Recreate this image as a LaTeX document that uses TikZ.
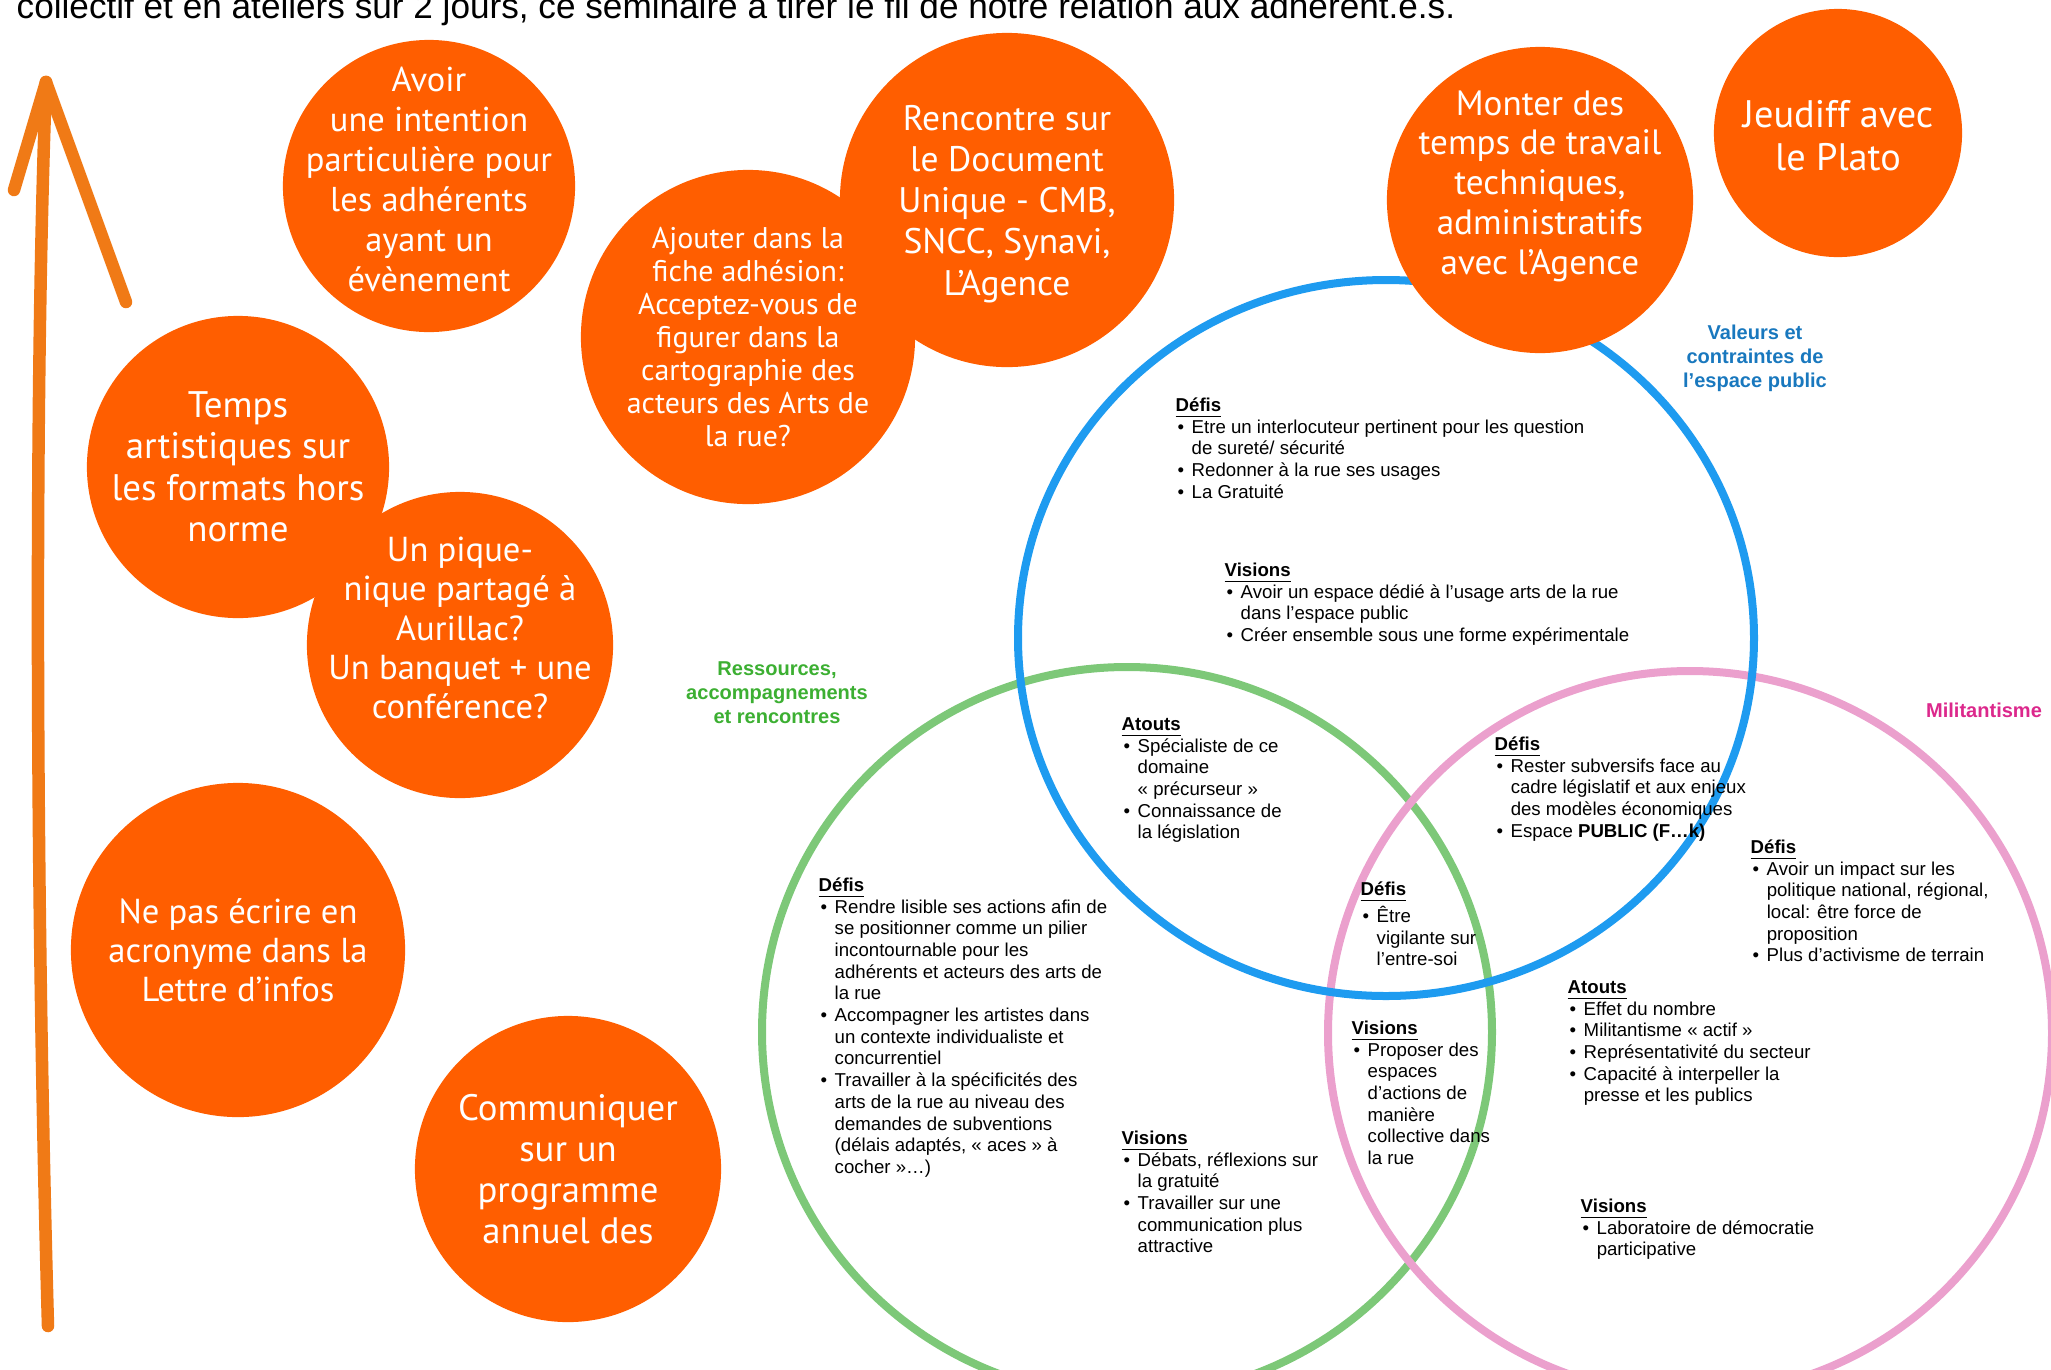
\documentclass[tikz,border=0pt]{standalone}
\usepackage{fontspec}
\setmainfont{Liberation Sans}
\newfontfamily\bubfont{PT Sans}
\usepackage{tikz}

\definecolor{bubor}{RGB}{255,94,0}
\definecolor{arror}{RGB}{240,122,22}
\definecolor{vblue}{RGB}{30,155,240}
\definecolor{vgreen}{RGB}{125,200,120}
\definecolor{vpink}{RGB}{235,160,205}
\definecolor{lblue}{RGB}{25,120,190}
\definecolor{lgreen}{RGB}{60,175,50}
\definecolor{lpink}{RGB}{220,40,140}

\newcommand{\hd}[1]{\rule{0pt}{1em}\textbf{\underline{#1}}}
\newcommand{\bl}{\hspace*{0.1em}\makebox[0.76em][l]{•}}
\newcommand{\ct}{\hspace*{0.86em}}
\newcommand{\bsz}[2]{\bubfont\fontsize{#1}{#2}\selectfont}

\begin{document}
\begin{tikzpicture}[x=0.01cm,y=-0.01cm,
  bubble/.style={circle,fill=bubor,draw=none,inner sep=0pt},
  bubtxt/.style={text=white,align=center,inner sep=0pt},
  venntxt/.style={anchor=north west,align=left,inner sep=0pt,font=\fontsize{5.3}{6.17}\selectfont},
  vennlbl/.style={align=center,inner sep=0pt,font=\bfseries\fontsize{5.7}{6.85}\selectfont},
  ring/.style={line width=0.8mm},
  arrowline/.style={draw=arror,line width=1.25mm,line cap=round,line join=round}]
  \useasboundingbox (0,0) rectangle (2051,1369);

  \draw[ring,vgreen] (1127,1032) circle [radius=365];
  \draw[ring,vpink] (1690,1033) circle [radius=362];
  \draw[ring,vblue] (1386,638) ellipse [x radius=368,y radius=358];

  \node[vennlbl,text=lblue] (lvaleurs) at (1755,358) {Valeurs et\\contraintes de\\l’espace public};
  \node[vennlbl,text=lgreen] (lressources) at (777,693) {Ressources,\\accompagnements\\et rencontres};
  \node[vennlbl,text=lpink] (lmilit) at (1984,710) {Militantisme};

  \node[venntxt] (bdefis) at (1175,392) {\hd{Défis}\\
    \bl Etre un interlocuteur pertinent pour les question\\
    \ct de sureté/ sécurité\\
    \bl Redonner à la rue ses usages\\
    \bl La Gratuité};
  \node[venntxt] (bvisions) at (1224,557) {\hd{Visions}\\
    \bl Avoir un espace dédié à l’usage arts de la rue\\
    \ct dans l’espace public\\
    \bl Créer ensemble sous une forme expérimentale};
  \node[venntxt] (bgatouts) at (1121,711) {\hd{Atouts}\\
    \bl Spécialiste de ce\\
    \ct domaine\\
    \ct « précurseur »\\
    \bl Connaissance de\\
    \ct la législation};
  \node[venntxt] (bpdefis) at (1494,731) {\hd{Défis}\\
    \bl Rester subversifs face au\\
    \ct cadre législatif et aux enjeux\\
    \ct des modèles économiques\\
    \bl Espace \textbf{PUBLIC (F…k)}};
  \node[venntxt] (pdefis) at (1750,834) {\hd{Défis}\\
    \bl Avoir un impact sur les\\
    \ct politique national, régional,\\
    \ct local: être force de\\
    \ct proposition\\
    \bl Plus d’activisme de terrain};
  \node[venntxt] (cdefis) at (1360,876) {\hd{Défis}\\
    \bl Être\\
    \ct vigilante sur\\
    \ct l’entre-soi};
  \node[venntxt] (gdefis) at (818,872) {\hd{Défis}\\
    \bl Rendre lisible ses actions afin de\\
    \ct se positionner comme un pilier\\
    \ct incontournable pour les\\
    \ct adhérents et acteurs des arts de\\
    \ct la rue\\
    \bl Accompagner les artistes dans\\
    \ct un contexte individualiste et\\
    \ct concurrentiel\\
    \bl Travailler à la spécificités des\\
    \ct arts de la rue au niveau des\\
    \ct demandes de subventions\\
    \ct (délais adaptés, « aces » à\\
    \ct cocher »…)};
  \node[venntxt] (gpvisions) at (1351,1015) {\hd{Visions}\\
    \bl Proposer des\\
    \ct espaces\\
    \ct d’actions de\\
    \ct manière\\
    \ct collective dans\\
    \ct la rue};
  \node[venntxt] (patouts) at (1567,974) {\hd{Atouts}\\
    \bl Effet du nombre\\
    \bl Militantisme « actif »\\
    \bl Représentativité du secteur\\
    \bl Capacité à interpeller la\\
    \ct presse et les publics};
  \node[venntxt] (gvisions) at (1121,1125) {\hd{Visions}\\
    \bl Débats, réflexions sur\\
    \ct la gratuité\\
    \bl Travailler sur une\\
    \ct communication plus\\
    \ct attractive};
  \node[venntxt] (pvisions) at (1580,1193) {\hd{Visions}\\
    \bl Laboratoire de démocratie\\
    \ct participative};

  \node[bubble,minimum size=2.92cm] (avoir) at (429,186) {};
  \node[bubble,minimum size=3.34cm] (ajouter) at (748,337) {};
  \node[bubble,minimum size=3.34cm] (rencontre) at (1007,200) {};
  \node[bubble,minimum size=3.06cm] (monter) at (1540,200) {};
  \node[bubble,minimum size=2.48cm] (jeudiff) at (1838,133) {};
  \node[bubble,minimum size=3.02cm] (temps) at (238,467) {};
  \node[bubble,minimum size=3.06cm] (pique) at (460,645) {};
  \node[bubble,minimum size=3.34cm] (ecrire) at (238,950) {};
  \node[bubble,minimum size=3.06cm] (commun) at (568,1169) {};

  \node[bubtxt,font=\bsz{9.8}{11.4},yshift=0.65mm] (tavoir) at (avoir) {Avoir\\une intention\\particulière pour\\les adhérents\\ayant un\\évènement};
  \node[bubtxt,font=\bsz{8.5}{9.4}] (tajouter) at (ajouter) {Ajouter dans la\\fiche adhésion:\\Acceptez-vous de\\figurer dans la\\cartographie des\\acteurs des Arts de\\la rue?};
  \node[bubtxt,font=\bsz{10.1}{11.7},yshift=-0.4mm] (trencontre) at (rencontre) {Rencontre sur\\le Document\\Unique - CMB,\\SNCC, Synavi,\\L’Agence};
  \node[bubtxt,font=\bsz{10}{11.3},yshift=1.4mm] (tmonter) at (monter) {Monter des\\temps de travail\\techniques,\\administratifs\\avec l’Agence};
  \node[bubtxt,font=\bsz{10.9}{12.2},yshift=-0.25mm] (tjeudiff) at (jeudiff) {Jeudiff avec\\le Plato};
  \node[bubtxt,font=\bsz{10.5}{11.8}] (ttemps) at (temps) {Temps\\artistiques sur\\les formats hors\\norme};
  \node[bubtxt,font=\bsz{9.85}{11.2},yshift=1.7mm] (tpique) at (pique) {Un pique-\\nique partagé à\\Aurillac?\\Un banquet + une\\conférence?};
  \node[bubtxt,font=\bsz{9.85}{11.1}] (tecrire) at (ecrire) {Ne pas écrire en\\acronyme dans la\\Lettre d’infos};
  \node[bubtxt,font=\bsz{10.45}{11.7}] (tcommun) at (commun) {Communiquer\\sur un\\programme\\annuel des};

  \node[anchor=base west,inner sep=0pt,font=\fontsize{10}{12}\selectfont] (titre) at (16,18)
    {collectif et en ateliers sur 2 jours, ce séminaire à tirer le fil de notre relation aux adhérent.e.s.};

  \coordinate (abot) at (48,1326);
  \coordinate (atip) at (46,82);
  \coordinate (abarbl) at (14,190);
  \coordinate (abarbr) at (126,302);
  \draw[arrowline] (abot) .. controls (36,900) and (34,400) .. (atip);
  \draw[arrowline] (atip) -- (abarbl);
  \draw[arrowline] (atip) -- (abarbr);
\end{tikzpicture}
\end{document}
